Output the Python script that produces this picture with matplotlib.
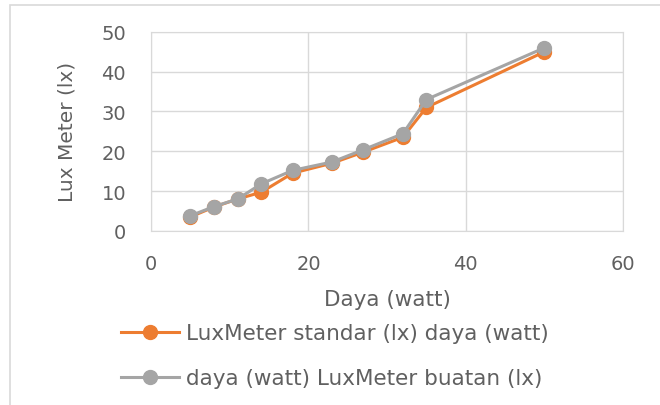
import matplotlib.pyplot as plt
from matplotlib.patches import Rectangle

daya = [5, 8, 11, 14, 18, 23, 27, 32, 35, 50]
lux_standar = [3.5, 6.0, 8.0, 9.7, 14.5, 17.0, 19.8, 23.5, 31.0, 45.0]
lux_buatan = [3.8, 6.1, 8.0, 11.8, 15.2, 17.3, 20.4, 24.4, 33.0, 46.0]

label_standar = "LuxMeter standar (lx) daya (watt)"
label_buatan = "daya (watt) LuxMeter buatan (lx)"

text_color = "#606060"
grid_color = "#d9d9d9"
plt.rcParams['font.family'] = ['DejaVu Sans']

fig = plt.figure(figsize=(6.6, 4.06), dpi=100)
ax = fig.add_axes([0.229, 0.429, 0.715, 0.490])

ax.plot(daya, lux_standar, color="#ed7d31", lw=2.2, marker="o", ms=10,
        label=label_standar, zorder=3)
ax.plot(daya, lux_buatan, color="#a5a5a5", lw=2.2, marker="o", ms=10,
        label=label_buatan, zorder=4)

ax.set_xlim(0, 60)
ax.set_ylim(0, 50)
ax.set_xticks([0, 20, 40, 60])
ax.set_yticks([0, 10, 20, 30, 40, 50])
ax.grid(True, color=grid_color, lw=1)
ax.set_axisbelow(True)
for s in ax.spines.values():
    s.set_color(grid_color)
ax.tick_params(length=0, labelsize=14, colors=text_color)
ax.tick_params(axis="x", pad=17)
ax.tick_params(axis="y", pad=18)

ax.set_xlabel("Daya (watt)", fontsize=15.5, color=text_color, labelpad=11)
ax.set_ylabel("Lux Meter (lx)", fontsize=14.5, color=text_color, labelpad=18)

leg = fig.legend(loc="upper left", bbox_to_anchor=(0.170, 0.222), frameon=False,
                 fontsize=15.5, labelcolor=text_color, handlelength=2.7,
                 handletextpad=0.35, labelspacing=1.15, borderaxespad=0)

# outer chart border
fig.patches.append(Rectangle((10 / 660, -0.1), 1.2, 1 - 6 / 406 + 0.1,
                             transform=fig.transFigure, fill=False,
                             edgecolor="#d9d9d9", lw=1.2))

fig.savefig("out.png", dpi=100)
